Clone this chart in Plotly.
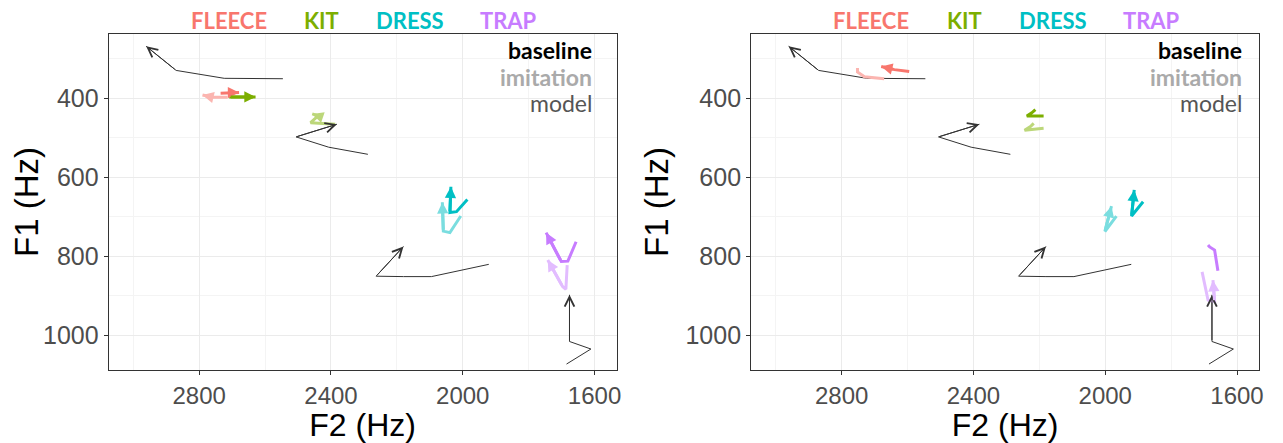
import plotly.graph_objects as go

# ---------------- data (Hz) ----------------
vowels = ["FLEECE", "KIT", "DRESS", "TRAP"]
colors_dark = ["#F8766D", "#7CAE00", "#00BFC4", "#C77CFF"]
colors_light = ["#FBB5B0", "#BCD77A", "#7ADDDF", "#E2BCFF"]

# model trajectories (identical in both panels)
model_f2 = [[2546, 2634, 2724, 2870, 2961],
            [2288, 2407, 2506, 2382],
            [1921, 2095, 2180, 2263, 2180],
            [1685, 1611, 1676, 1676]]
model_f1 = [[351, 351, 350, 330, 269],
            [542, 524, 498, 466],
            [820, 851, 851, 850, 775],
            [1072, 1034, 1015, 897]]

# left panel
base_f2_left = [[2735, 2705, 2679], [2709, 2629], [1986, 2019, 2039, 2036], [1656, 1681, 1701, 1747]]
base_f1_left = [[388, 386, 386], [397, 397], [656, 687, 689, 624], [763, 812, 813, 740]]
imit_f2_left = [[2714, 2760, 2790], [2387, 2462, 2439, 2457], [2006, 2039, 2059, 2062], [1683, 1687, 1697, 1742]]
imit_f1_left = [[398, 398, 392], [466, 462, 445, 440], [698, 740, 736, 663], [822, 883, 876, 809]]

# right panel
base_f2_right = [[2595, 2640, 2680], [2187, 2238, 2223, 2212], [1885, 1920, 1912], [1658, 1668, 1683, 1688]]
base_f1_right = [[333, 328, 320], [445, 445, 437, 429], [662, 698, 632], [836, 784, 776, 771]]
imit_f2_right = [[2671, 2731, 2752, 2752], [2187, 2245, 2227, 2217], [1966, 2001, 1981], [1706, 1688, 1668, 1673]]
imit_f1_right = [[351, 346, 334, 324], [476, 481, 472, 464], [698, 737, 673], [839, 910, 914, 860]]

x_ticks = [2800, 2400, 2000, 1600]
y_ticks = [400, 600, 800, 1000]
x_range = [3075, 1533]
y_range = [1087, 238]
legend_labels = ["baseline", "imitation", "model"]
legend_colors = ["#000000", "#AAAAAA", "#555555"]

# ---------------- figure ----------------
fig = go.Figure()
annotations = []

panels = [
    ("x", "y", base_f2_left, base_f1_left, imit_f2_left, imit_f1_left),
    ("x2", "y2", base_f2_right, base_f1_right, imit_f2_right, imit_f1_right),
]


def add_path(xs, ys, xa, ya, color, width, head, size):
    fig.add_trace(go.Scatter(x=xs, y=ys, mode="lines", xaxis=xa, yaxis=ya,
                             line=dict(color=color, width=width),
                             hoverinfo="skip", showlegend=False))
    annotations.append(dict(x=xs[-1], y=ys[-1], ax=xs[-2], ay=ys[-2],
                            xref=xa, yref=ya, axref=xa, ayref=ya,
                            showarrow=True, arrowhead=head, arrowsize=size,
                            arrowwidth=width, arrowcolor=color, text=""))


for xa, ya, bf2, bf1, if2, if1 in panels:
    for i in range(len(vowels)):
        add_path(model_f2[i], model_f1[i], xa, ya, "#333333", 1, 5, 1.9)
    for i in range(len(vowels)):
        add_path(if2[i], if1[i], xa, ya, colors_light[i], 3, 2, 0.75)
        add_path(bf2[i], bf1[i], xa, ya, colors_dark[i], 3, 2, 0.75)

# vowel labels above panels
label_pos = [0.237, 0.42, 0.594, 0.788]
for xa in ["x", "x2"]:
    for i, v in enumerate(vowels):
        annotations.append(dict(text=f"<b>{v}</b>", x=label_pos[i], y=1.04,
                                xref=f"{xa} domain", yref="y domain",
                                showarrow=False, xanchor="center", yanchor="middle",
                                font=dict(family="Lato", size=22, color=colors_dark[i])))

# baseline / imitation / model key inside panels
key_x = {"x": 0.955, "x2": 0.97}
key_y = [0.952, 0.873, 0.795]
for xa in ["x", "x2"]:
    for j, lab in enumerate(legend_labels):
        txt = f"<b>{lab}</b>" if j < 2 else lab
        annotations.append(dict(text=txt, x=key_x[xa], y=key_y[j],
                                xref=f"{xa} domain", yref="y domain",
                                showarrow=False, xanchor="right", yanchor="middle",
                                font=dict(family="Lato", size=23, color=legend_colors[j])))

axis_font = "Liberation Sans, Arial"
common_x = dict(range=x_range, tickvals=x_ticks, showgrid=True, gridcolor="#EBEBEB", gridwidth=1,
                minor=dict(tickvals=[3000, 2600, 2200, 1800], showgrid=True, gridcolor="#F4F4F4", gridwidth=0.6),
                showline=True, mirror=True, linecolor="#333333", linewidth=1,
                ticks="outside", ticklen=4, tickcolor="#333333",
                tickfont=dict(family=axis_font, size=24, color="#4D4D4D"),
                title=dict(text="F2 (Hz)", font=dict(family=axis_font, size=32, color="#000000"), standoff=3),
                zeroline=False)
common_y = dict(range=y_range, tickvals=y_ticks, showgrid=True, gridcolor="#EBEBEB", gridwidth=1,
                minor=dict(tickvals=[300, 500, 700, 900], showgrid=True, gridcolor="#F4F4F4", gridwidth=0.6),
                showline=True, mirror=True, linecolor="#333333", linewidth=1,
                ticks="outside", ticklen=4, tickcolor="#333333",
                tickfont=dict(family=axis_font, size=25, color="#4D4D4D"),
                title=dict(text="F1 (Hz)", font=dict(family=axis_font, size=33, color="#000000"), standoff=6),
                zeroline=False)

# page body has an 8px margin, so the figure is laid out 8px up/left
fig.update_layout(
    width=1275, height=435,
    margin=dict(l=0, r=0, t=0, b=0),
    paper_bgcolor="white", plot_bgcolor="white",
    xaxis=dict(domain=[0.07922, 0.47922], anchor="y", **common_x),
    yaxis=dict(domain=[0.16782, 0.94023], anchor="x", **common_y),
    xaxis2=dict(domain=[0.58510, 0.98510], anchor="y2", **common_x),
    yaxis2=dict(domain=[0.16782, 0.94023], anchor="x2", **common_y),
    annotations=annotations,
    showlegend=False,
)

fig.write_html("out.html")
